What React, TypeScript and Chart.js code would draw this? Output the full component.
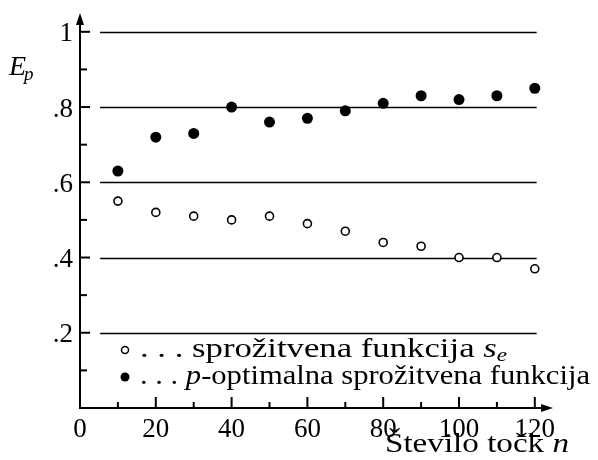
import React, { useEffect, useRef } from "react";
import { Chart, registerables } from "chart.js";

Chart.register(...registerables);

const nValues = [10, 20, 30, 40, 50, 60, 70, 80, 90, 100, 110, 120];
const seValues = [0.55, 0.52, 0.51, 0.5, 0.51, 0.49, 0.47, 0.44, 0.43, 0.4, 0.4, 0.37];
const pOptValues = [0.63, 0.72, 0.73, 0.8, 0.76, 0.77, 0.79, 0.81, 0.83, 0.82, 0.83, 0.85];

const xTickValues = [0, 20, 40, 60, 80, 100, 120];
const xTickLabels = ["0", "20", "40", "60", "80", "100", "120"];
const xMinorTicks = [10, 30, 50, 70, 90, 110];
const yTickValues = [0.2, 0.4, 0.6, 0.8, 1];
const yTickLabels = [".2", ".4", ".6", ".8", "1"];
const yMinorTicks = [0.1, 0.3, 0.5, 0.7, 0.9];

const FONT = '"Liberation Serif", "DejaVu Serif", serif';

type Seg = { text: string; font: string; dy?: number };

function drawFitted(ctx: CanvasRenderingContext2D, segs: Seg[], x: number, y: number, target: number) {
  let total = 0;
  const widths = segs.map((s) => {
    ctx.font = s.font;
    const w = ctx.measureText(s.text).width;
    total += w;
    return w;
  });
  const sx = target / total;
  ctx.save();
  ctx.translate(x, y);
  ctx.scale(sx, 1);
  ctx.textAlign = "left";
  ctx.textBaseline = "alphabetic";
  let cx = 0;
  segs.forEach((s, i) => {
    ctx.font = s.font;
    ctx.fillText(s.text, cx, s.dy || 0);
    cx += widths[i];
  });
  ctx.restore();
}

const decorPlugin = {
  id: "decor",
  beforeDatasetsDraw(chart: any) {
    const ctx = chart.ctx as CanvasRenderingContext2D;
    const xs = chart.scales.x;
    const ys = chart.scales.y;
    const x0 = xs.getPixelForValue(0);
    const y0 = ys.getPixelForValue(0);
    ctx.save();
    ctx.strokeStyle = "#000";
    ctx.fillStyle = "#000";
    // grid lines
    ctx.lineWidth = 1.5;
    const gx1 = xs.getPixelForValue(5.3);
    const gx2 = xs.getPixelForValue(120.5);
    yTickValues.forEach((v) => {
      const y = Math.round(ys.getPixelForValue(v)) + 0.5;
      ctx.beginPath();
      ctx.moveTo(gx1, y);
      ctx.lineTo(gx2, y);
      ctx.stroke();
    });
    // axes
    ctx.lineWidth = 2;
    const yTop = ys.getPixelForValue(ys.max);
    const xRight = xs.getPixelForValue(xs.max);
    ctx.beginPath();
    ctx.moveTo(x0, y0 + 1);
    ctx.lineTo(x0, yTop + 8);
    ctx.stroke();
    ctx.beginPath();
    ctx.moveTo(x0 - 1, y0);
    ctx.lineTo(xRight - 8, y0);
    ctx.stroke();
    // arrowheads
    ctx.beginPath();
    ctx.moveTo(x0, yTop);
    ctx.lineTo(x0 - 4, yTop + 12);
    ctx.lineTo(x0 + 4, yTop + 12);
    ctx.closePath();
    ctx.fill();
    ctx.beginPath();
    ctx.moveTo(xRight, y0);
    ctx.lineTo(xRight - 12, y0 - 4);
    ctx.lineTo(xRight - 12, y0 + 4);
    ctx.closePath();
    ctx.fill();
    // y ticks
    yTickValues.forEach((v) => {
      const y = ys.getPixelForValue(v);
      ctx.beginPath();
      ctx.moveTo(x0, y);
      ctx.lineTo(x0 + 10, y);
      ctx.stroke();
    });
    yMinorTicks.forEach((v) => {
      const y = ys.getPixelForValue(v);
      ctx.beginPath();
      ctx.moveTo(x0, y);
      ctx.lineTo(x0 + 7, y);
      ctx.stroke();
    });
    // x ticks
    xTickValues.forEach((v) => {
      if (v === 0) return;
      const x = xs.getPixelForValue(v);
      ctx.beginPath();
      ctx.moveTo(x, y0);
      ctx.lineTo(x, y0 - 11);
      ctx.stroke();
    });
    xMinorTicks.forEach((v) => {
      const x = xs.getPixelForValue(v);
      ctx.beginPath();
      ctx.moveTo(x, y0);
      ctx.lineTo(x, y0 - 6);
      ctx.stroke();
    });
    // tick labels
    ctx.font = `27px ${FONT}`;
    ctx.textBaseline = "alphabetic";
    ctx.textAlign = "right";
    yTickValues.forEach((v, i) => {
      const y = ys.getPixelForValue(v);
      ctx.fillText(yTickLabels[i], x0 - 7, y + 9.5);
    });
    ctx.textAlign = "center";
    xTickValues.forEach((v, i) => {
      const x = xs.getPixelForValue(v);
      ctx.fillText(xTickLabels[i], x, y0 + 29);
    });
    // axis titles
    ctx.textAlign = "left";
    ctx.font = `italic 28px ${FONT}`;
    ctx.fillText("E", 9, 75);
    const ew = ctx.measureText("E").width;
    ctx.font = `italic 19px ${FONT}`;
    ctx.fillText("p", 9 + ew - 2, 80);

    drawFitted(
      ctx,
      [
        { text: "Število točk ", font: `28px ${FONT}` },
        { text: "n", font: `italic 28px ${FONT}` },
      ],
      385,
      452,
      184
    );
    ctx.restore();
  },
  afterDatasetsDraw(chart: any) {
    const ctx = chart.ctx as CanvasRenderingContext2D;
    ctx.save();
    ctx.fillStyle = "#000";
    ctx.strokeStyle = "#000";
    ctx.lineWidth = 1.5;
    ctx.beginPath();
    ctx.arc(125, 350, 3.5, 0, Math.PI * 2);
    ctx.stroke();
    ctx.beginPath();
    ctx.arc(125, 377, 4.5, 0, Math.PI * 2);
    ctx.fill();
    const fs = 27;
    drawFitted(
      ctx,
      [
        { text: ". . . sprožitvena funkcija ", font: `${fs}px ${FONT}` },
        { text: "s", font: `italic ${fs}px ${FONT}` },
        { text: "e", font: `italic 18px ${FONT}`, dy: 4 },
      ],
      140,
      357,
      367
    );
    drawFitted(
      ctx,
      [
        { text: ". . . ", font: `${fs}px ${FONT}` },
        { text: "p", font: `italic ${fs}px ${FONT}` },
        { text: "-optimalna sprožitvena funkcija", font: `${fs}px ${FONT}` },
      ],
      140,
      384,
      450
    );
    ctx.restore();
  },
};

export default function App() {
  const ref = useRef<HTMLCanvasElement | null>(null);
  useEffect(() => {
    if (!ref.current) return;
    const chart = new Chart(ref.current, {
      type: "scatter",
      data: {
        datasets: [
          {
            label: "sprožitvena funkcija s_e",
            data: nValues.map((n, i) => ({ x: n, y: seValues[i] })),
            pointStyle: "circle",
            pointRadius: 4,
            pointBorderWidth: 1.6,
            pointBorderColor: "#000",
            pointBackgroundColor: "#fff",
          },
          {
            label: "p-optimalna sprožitvena funkcija",
            data: nValues.map((n, i) => ({ x: n, y: pOptValues[i] })),
            pointStyle: "circle",
            pointRadius: 5.5,
            pointBorderWidth: 0,
            pointBorderColor: "#000",
            pointBackgroundColor: "#000",
          },
        ],
      },
      options: {
        animation: false,
        responsive: false,
        maintainAspectRatio: false,
        layout: { padding: { left: 80, right: 45, top: 13, bottom: 52 } },
        plugins: { legend: { display: false }, tooltip: { enabled: false } },
        scales: {
          x: { type: "linear", min: 0, max: 124.8, display: false },
          y: { type: "linear", min: 0, max: 1.05, display: false },
        },
      },
      plugins: [decorPlugin],
    });
    return () => chart.destroy();
  }, []);
  return (
    <div style={{ position: "fixed", left: 0, top: 0, width: 598, height: 460, background: "#fff" }}>
      <canvas ref={ref} width={598} height={460} style={{ width: 598, height: 460 }} />
    </div>
  );
}
